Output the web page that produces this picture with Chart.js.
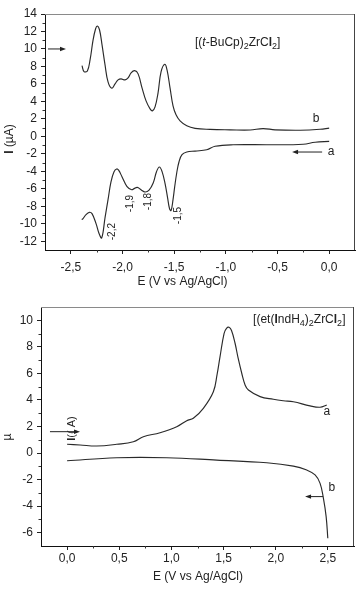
<!DOCTYPE html>
<html><head><meta charset="utf-8">
<script src="https://cdn.jsdelivr.net/npm/chart.js@4/dist/chart.umd.min.js"></script>
<style>
html,body{margin:0;padding:0;background:#fff;}
#w{position:relative;width:362px;height:589px;overflow:hidden;}
#c1{position:absolute;left:0;top:0;}
#c2{position:absolute;left:0;top:295px;}
</style></head><body>
<div id="w"><canvas id="c1" width="362" height="295"></canvas><canvas id="c2" width="362" height="294"></canvas></div>
<script>
// ---- Top chart data: [(t-BuCp)2ZrCl2] ----
const topFwdE = [-2.392,-2.372,-2.340,-2.314,-2.285,-2.261,-2.244,-2.222,-2.198,-2.169,-2.140,-2.104,-2.072,-2.043,-2.014,-1.975,-1.946,-1.917,-1.882,-1.849,-1.811,-1.772,-1.733,-1.711,-1.685,-1.656,-1.627,-1.591,-1.569,-1.540,-1.511,-1.482,-1.443,-1.378,-1.298,-1.153,-0.959,-0.765,-0.640,-0.523,-0.281,-0.088,0.0];
const topFwdI = [8.09,7.41,7.49,8.74,11.0,12.28,12.63,12.17,10.46,8.17,6.23,5.51,6.0,6.46,6.58,6.46,6.69,7.26,7.52,7.15,5.55,4.06,3.15,2.92,3.38,4.98,7.37,8.25,7.6,5.55,3.49,2.47,1.78,1.21,0.92,0.80,0.75,0.73,0.89,0.75,0.70,0.81,0.95];
const topRevE = [0.0,-0.136,-0.252,-0.572,-0.930,-1.104,-1.185,-1.298,-1.378,-1.424,-1.453,-1.475,-1.496,-1.511,-1.530,-1.545,-1.564,-1.588,-1.617,-1.643,-1.671,-1.702,-1.743,-1.782,-1.821,-1.857,-1.888,-1.911,-1.956,-2.005,-2.038,-2.056,-2.082,-2.111,-2.140,-2.169,-2.201,-2.227,-2.256,-2.295,-2.321,-2.353,-2.382,-2.395];
const topRevI = [-0.58,-0.67,-0.90,-0.96,-0.96,-1.13,-1.53,-1.68,-1.79,-2.10,-2.90,-4.16,-5.87,-7.24,-8.49,-8.26,-7.0,-5.41,-4.04,-3.50,-4.04,-5.30,-6.15,-6.36,-6.10,-5.83,-5.98,-6.10,-5.75,-4.61,-3.87,-3.73,-4.04,-5.18,-7.24,-9.29,-11.61,-11.12,-9.98,-8.84,-8.69,-8.95,-9.41,-9.52];
const topXTicks = [-2.5,-2.0,-1.5,-1.0,-0.5,0.0];
const topXMinor = [-2.25,-1.75,-1.25,-0.75,-0.25];
const topYTicks = [14,12,10,8,6,4,2,0,-2,-4,-6,-8,-10,-12];
const topYMinor = [13,11,9,7,5,3,1,-1,-3,-5,-7,-9,-11];
const topPeakLabels = ['-2,2','-1,9','-1,8','-1,5'];
const topPeakE = [-2.101,-1.927,-1.753,-1.463];
const topPeakI = [-10.9,-7.69,-7.46,-9.06];

// ---- Bottom chart data: [(et(IndH4)2ZrCl2] ----
const botAE = [0.0,0.124,0.284,0.476,0.635,0.731,0.891,1.051,1.147,1.210,1.306,1.402,1.437,1.466,1.505,1.528,1.552,1.576,1.610,1.639,1.674,1.706,1.738,1.850,1.977,2.073,2.169,2.329,2.425,2.489];
const botAI = [0.66,0.61,0.53,0.66,0.85,1.23,1.53,1.98,2.44,2.62,3.37,4.62,5.88,7.26,9.02,9.39,9.47,9.23,8.27,7.16,6.01,5.13,4.75,4.25,4.05,3.94,3.86,3.55,3.45,3.62];
const botBE = [0.0,0.476,0.955,1.435,1.914,2.169,2.297,2.377,2.425,2.457,2.483,2.499];
const botBI = [-0.58,-0.35,-0.35,-0.53,-0.73,-0.98,-1.28,-1.65,-2.28,-3.41,-4.79,-6.42];
const botXTicks = [0.0,0.5,1.0,1.5,2.0,2.5];
const botXMinor = [0.25,0.75,1.25,1.75,2.25];
const botYTicks = [10,8,6,4,2,0,-2,-4,-6];
const botYMinor = [9,7,5,3,1,-1,-3,-5];

const FAM = '"Liberation Sans", Arial, Helvetica, sans-serif';
const INK = '#222';
const LINE = '#2a2a2a';

function pts(xs, ys){ return xs.map((x,i)=>({x:x, y:ys[i]})); }
function fmtX(v){ return Number(v).toFixed(1).replace('.', ','); }

function fontFor(s, size){
  const sz = s.sub ? Math.round(size*0.75) : size;
  return (s.i ? 'italic ' : '') + (s.b ? 'bold ' : '') + sz + 'px ' + FAM;
}
function rich(ctx, segs, x, y, size, align){
  let total = 0;
  const items = segs.map(s => { ctx.font = fontFor(s,size); const w = ctx.measureText(s.t).width; total += w; return {s:s, w:w}; });
  let cx = align === 'center' ? x - total/2 : x;
  ctx.textBaseline = 'middle'; ctx.textAlign = 'left'; ctx.fillStyle = INK;
  items.forEach(it => { ctx.font = fontFor(it.s,size); ctx.fillText(it.s.t, cx, y + (it.s.sub ? size*0.32 : 0)); cx += it.w; });
}
function richRot(ctx, segs, x, y, size){
  ctx.save(); ctx.translate(x, y); ctx.rotate(-Math.PI/2); rich(ctx, segs, 0, 0, size, 'center'); ctx.restore();
}
function arrow(ctx, x1, y1, x2, y2){
  ctx.save(); ctx.strokeStyle = INK; ctx.fillStyle = INK; ctx.lineWidth = 1;
  const dir = Math.sign(x2 - x1) || 1;
  ctx.beginPath(); ctx.moveTo(x1, y1); ctx.lineTo(x2 - dir*4, y2); ctx.stroke();
  ctx.beginPath(); ctx.moveTo(x2, y2); ctx.lineTo(x2 - dir*6, y2 - 2.2); ctx.lineTo(x2 - dir*6, y2 + 2.2); ctx.closePath(); ctx.fill();
  ctx.restore();
}

function decoPlugin(xMinor, yMinor, extra){
  return {
    id: 'deco',
    afterDraw(chart){
      const ctx = chart.ctx, a = chart.chartArea, xs = chart.scales.x, ys = chart.scales.y;
      ctx.save();
      ctx.lineWidth = 1;
      ctx.strokeStyle = '#8a8a8a';
      ctx.beginPath(); ctx.moveTo(a.left, Math.round(a.top)+0.5); ctx.lineTo(a.right, Math.round(a.top)+0.5); ctx.stroke();
      ctx.strokeStyle = '#444';
      ctx.beginPath(); ctx.moveTo(Math.round(a.right)-0.5, a.top); ctx.lineTo(Math.round(a.right)-0.5, a.bottom); ctx.stroke();
      ctx.strokeStyle = '#333';
      xMinor.forEach(v => { const p = Math.round(xs.getPixelForValue(v))+0.5; ctx.beginPath(); ctx.moveTo(p, a.bottom); ctx.lineTo(p, a.bottom+2.5); ctx.stroke(); });
      yMinor.forEach(v => { const p = Math.round(ys.getPixelForValue(v))+0.5; ctx.beginPath(); ctx.moveTo(a.left-2.5, p); ctx.lineTo(a.left, p); ctx.stroke(); });
      ctx.restore();
      ctx.save();
      extra(ctx, a, xs, ys);
      ctx.restore();
    }
  };
}

function baseOptions(xMin, xMax, yMin, yMax, xT, yT, yW, xH, pad, xPad){
  return {
    responsive: false, animation: false, devicePixelRatio: 1,
    layout: { padding: pad },
    plugins: { legend: {display:false}, tooltip: {enabled:false}, title: {display:false} },
    elements: { point: { radius: 0 }, line: { borderWidth: 1.15, borderColor: LINE, tension: 0.4 } },
    scales: {
      x: {
        type: 'linear', min: xMin, max: xMax,
        afterBuildTicks: s => { s.ticks = xT.map(v => ({value: v})); },
        afterFit: s => { s.height = xH; },
        grid: { display: true, drawOnChartArea: false, drawTicks: true, tickLength: 4, tickColor: '#222', color: '#222' },
        border: { display: true, color: '#111', width: 1 },
        ticks: { color: INK, font: { family: FAM, size: 12 }, padding: xPad, maxRotation: 0, autoSkip: false, callback: v => fmtX(v) }
      },
      y: {
        type: 'linear', min: yMin, max: yMax,
        afterBuildTicks: s => { s.ticks = yT.map(v => ({value: v})); },
        afterFit: s => { s.width = yW; },
        grid: { display: true, drawOnChartArea: false, drawTicks: true, tickLength: 4, tickColor: '#222', color: '#222' },
        border: { display: true, color: '#111', width: 1 },
        ticks: { color: INK, font: { family: FAM, size: 12 }, padding: 4, autoSkip: false, callback: v => String(v) }
      }
    }
  };
}

// ---- Top chart ----
new Chart(document.getElementById('c1'), {
  type: 'line',
  data: { datasets: [
    { label: 'b', data: pts(topFwdE, topFwdI), fill: false },
    { label: 'a', data: pts(topRevE, topRevI), fill: false }
  ]},
  options: baseOptions(-2.75, 0.25, -13, 14, topXTicks, topYTicks, 45, 45, {left:0, top:14, right:7, bottom:0}, 6),
  plugins: [decoPlugin(topXMinor, topYMinor, (ctx, a, xs, ys) => {
    const X = v => xs.getPixelForValue(v), Y = v => ys.getPixelForValue(v);
    rich(ctx, [{t:'[('},{t:'t',i:true},{t:'-BuCp)'},{t:'2',sub:true},{t:'ZrC'},{t:'l',b:true},{t:'2',sub:true},{t:']'}], X(-1.298), Y(10.68), 12, 'left');
    arrow(ctx, X(-2.721), Y(10), X(-2.547), Y(10));
    arrow(ctx, X(-0.068), Y(-1.79), X(-0.359), Y(-1.79));
    rich(ctx, [{t:'a'}], X(0.019), Y(-1.79), 12, 'center');
    rich(ctx, [{t:'b'}], X(-0.127), Y(2.0), 12, 'center');
    topPeakLabels.forEach((t,i) => richRot(ctx, [{t:t}], X(topPeakE[i]), Y(topPeakI[i]), 10));
    rich(ctx, [{t:'E (V vs Ag/AgCl)'}], X(-1.42), a.bottom + 32, 12, 'center');
    richRot(ctx, [{t:'I',b:true},{t:' (\u00b5A)'}], a.left - 35, (a.top + a.bottom)/2 + 7, 12);
  })]
});

// ---- Bottom chart ----
new Chart(document.getElementById('c2'), {
  type: 'line',
  data: { datasets: [
    { label: 'a', data: pts(botAE, botAI), fill: false },
    { label: 'b', data: pts(botBE, botBI), fill: false }
  ]},
  options: baseOptions(-0.25, 2.75, -7, 11, botXTicks, botYTicks, 41, 43, {left:0, top:12, right:8, bottom:0}, 1),
  plugins: [decoPlugin(botXMinor, botYMinor, (ctx, a, xs, ys) => {
    const X = v => xs.getPixelForValue(v), Y = v => ys.getPixelForValue(v);
    rich(ctx, [{t:'[(et('},{t:'I',b:true},{t:'ndH'},{t:'4',sub:true},{t:')'},{t:'2',sub:true},{t:'ZrC'},{t:'l',b:true},{t:'2',sub:true},{t:']'}], X(1.783), Y(10.02), 12, 'left');
    arrow(ctx, X(-0.164), Y(1.61), X(0.124), Y(1.61));
    arrow(ctx, X(2.454), Y(-3.28), X(2.281), Y(-3.28));
    rich(ctx, [{t:'a'}], X(2.489), Y(3.12), 12, 'center');
    rich(ctx, [{t:'b'}], X(2.537), Y(-2.63), 12, 'center');
    richRot(ctx, [{t:'I',b:true},{t:'(( A)'}], X(0.047), Y(1.85), 11);
    richRot(ctx, [{t:'\u00b5'}], a.left - 33, Y(1.2), 12);
    rich(ctx, [{t:'E (V vs Ag/AgCl)'}], X(1.255), a.bottom + 31, 12, 'center');
  })]
});
</script>
</body></html>
